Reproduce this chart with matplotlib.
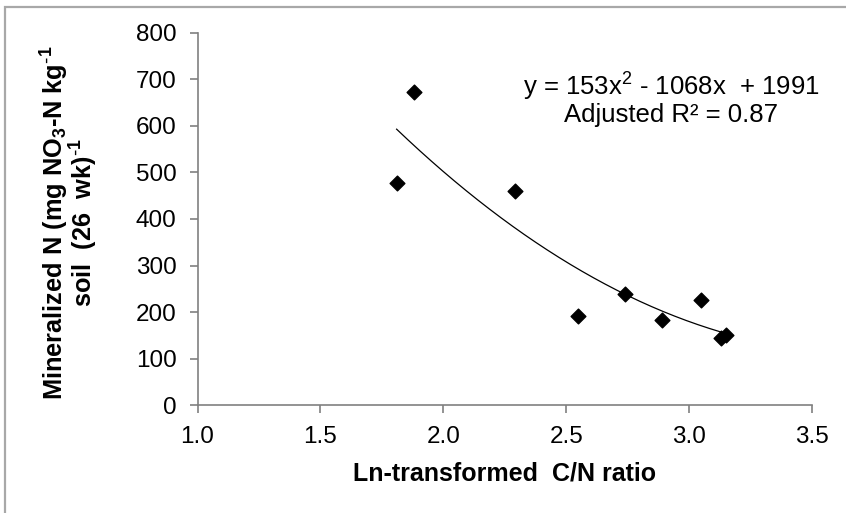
import numpy as np
import matplotlib.pyplot as plt
from matplotlib.patches import Rectangle

plt.rcParams['font.family'] = ['Liberation Sans', 'DejaVu Sans']
plt.rcParams['mathtext.default'] = 'regular'

# Daten
cn_ln = [1.81, 1.88, 2.29, 2.55, 2.74, 2.89, 3.05, 3.13, 3.15]
min_n = [477, 674, 461, 192, 238, 183, 226, 144, 151]

eq_text = 'y = 153x$^{2}$ - 1068x  + 1991'
r2_text = 'Adjusted R² = 0.87'

fig = plt.figure(figsize=(8.46, 5.13), dpi=100)
ax = fig.add_axes([0.2335, 0.2105, 0.7263, 0.7252])

# Rahmen um die ganze Grafik
fig.patches.append(Rectangle((5 / 846, -0.05), 1.2, 1 - 7 / 513 + 0.05,
                             transform=fig.transFigure, fill=False,
                             edgecolor='#a8a8a8', linewidth=1.6))

ax.scatter(cn_ln, min_n, marker='D', s=7.5**2, color='black', zorder=3)

# Trendlinie (Polynom 2. Grades)
coef = np.polyfit(cn_ln, min_n, 2)
xs = np.linspace(min(cn_ln), max(cn_ln), 200)
ax.plot(xs, np.polyval(coef, xs), color='black', linewidth=0.9)

ax.text(2.926, 684, eq_text, ha='center', va='center', fontsize=18.5)
ax.text(2.926, 624, r2_text, ha='center', va='center', fontsize=18.5)

ax.set_xlim(1.0, 3.5)
ax.set_ylim(0, 800)
ax.set_xticks(np.arange(1.0, 3.51, 0.5))
ax.set_yticks(range(0, 801, 100))
ax.set_xticklabels(['%.1f' % v for v in np.arange(1.0, 3.51, 0.5)])

for side in ['top', 'right']:
    ax.spines[side].set_visible(False)
for side in ['left', 'bottom']:
    ax.spines[side].set_color('#808080')
    ax.spines[side].set_linewidth(1.2)
ax.tick_params(direction='out', length=6, width=1.2, color='#808080',
               labelsize=17.5, pad=9)

ax.set_xlabel('Ln-transformed  C/N ratio', fontsize=18, fontweight='bold',
              labelpad=10)
ax.set_ylabel('Mineralized N (mg NO$_3$-N kg$^{\\text{-}1}$\nsoil  (26  wk)$^{\\text{-}1}$',
              fontsize=18.3, fontweight='bold', linespacing=0.85)
ax.yaxis.set_label_coords(-0.159, 0.49)

fig.savefig('out.png', dpi=100)
